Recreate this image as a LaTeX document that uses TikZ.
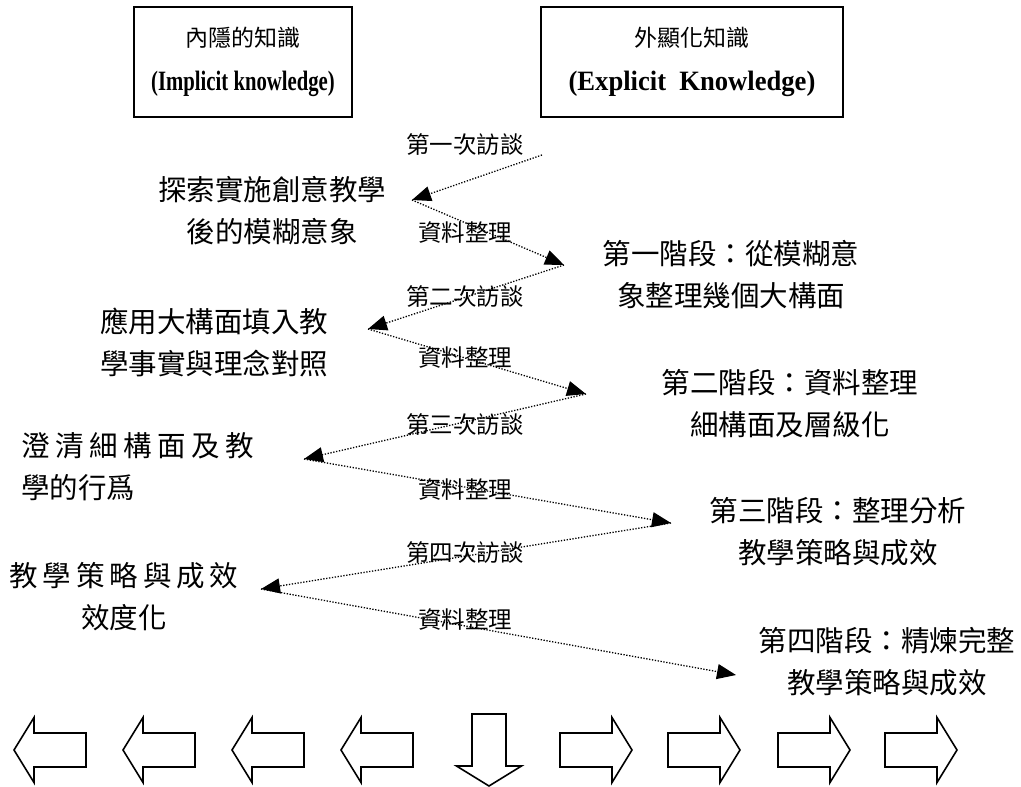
\documentclass[tikz,border=0pt]{standalone}
\usepackage{fontspec}
\setmainfont{Liberation Serif}
\newfontfamily\cjk{Noto Sans CJK TC}
\usetikzlibrary{arrows.meta}

\begin{document}
\begin{tikzpicture}[x=1pt,y=-1pt,
headbox/.style={draw,line width=1.8pt,minimum height=110pt,align=center,inner sep=0pt,font=\fontsize{23}{44}\selectfont},
stage/.style={align=center,inner sep=0pt,font=\cjk\fontsize{28.5}{42}\selectfont},
lbl/.style={inner sep=0pt,font=\cjk\fontsize{23.5}{26}\selectfont},
conn/.style={-{Triangle[length=19pt,width=15pt]},line width=1.3pt,dash pattern=on 1.3pt off 1.6pt},
blockarr/.style={draw,line width=1.6pt,line join=miter}]
\useasboundingbox (0,0) rectangle (1021,787);
\node[headbox,minimum width=218pt] (implicit) at (243,62) {{\cjk 內隱的知識}\\\scalebox{0.74}[1]{\fontsize{28}{30}\selectfont\bfseries (Implicit knowledge)}};
\node[headbox,minimum width=302pt] (explicit) at (692,62) {{\cjk 外顯化知識}\\\scalebox{0.95}[1]{\fontsize{28}{30}\selectfont\bfseries (Explicit\ \ Knowledge)}};
% implicit side
\node[stage] (explore) at (272,211) {探索實施創意教學\\後的模糊意象};
\node[stage] (apply) at (214,342) {應用大構面填入教\\學事實與理念對照};
\node[stage,align=left,anchor=west] (clarify) at (21,467) {\makebox[233pt][s]{澄\hfil 清\hfil 細\hfil 構\hfil 面\hfil 及\hfil 教}\\學的行爲};
\node[stage] (strategy) at (124,597) {\makebox[229pt][s]{教\hfil 學\hfil 策\hfil 略\hfil 與\hfil 成\hfil 效}\\效度化};
% explicit side
\node[stage] (stage1) at (731,275) {第一階段：從模糊意\\象整理幾個大構面};
\node[stage] (stage2) at (790,404) {第二階段：資料整理\\細構面及層級化};
\node[stage] (stage3) at (838,532) {第三階段：整理分析\\教學策略與成效};
\node[stage] (stage4) at (887,662) {第四階段：精煉完整\\教學策略與成效};
% turning points
\coordinate (p0) at (542,155);
\coordinate (p1) at (412,200);
\coordinate (p2) at (564,265);
\coordinate (p3) at (368,329);
\coordinate (p4) at (586,394);
\coordinate (p5) at (304,459);
\coordinate (p6) at (671,523);
\coordinate (p7) at (261,589);
\coordinate (p8) at (736,675);
\draw[conn] (p0) -- (p1);
\draw[conn] (p1) -- (p2);
\draw[conn] (p2) -- (p3);
\draw[conn] (p3) -- (p4);
\draw[conn] (p4) -- (p5);
\draw[conn] (p5) -- (p6);
\draw[conn] (p6) -- (p7);
\draw[conn] (p7) -- (p8);
\node[lbl] (talk1) at (465,145) {第一次訪談};
\node[lbl] (sort1) at (465,233) {資料整理};
\node[lbl] (talk2) at (465,297) {第二次訪談};
\node[lbl] (sort2) at (465,358) {資料整理};
\node[lbl] (talk3) at (465,425) {第三次訪談};
\node[lbl] (sort3) at (465,490) {資料整理};
\node[lbl] (talk4) at (465,553) {第四次訪談};
\node[lbl] (sort4) at (465,620) {資料整理};
% block arrows
\foreach \x/\r in {50/180,159/180,268/180,377/180,489/-90,596/0,704/0,814/0,921/0}
  \draw[blockarr,shift={(\x,750)},rotate=\r] (-36,-17) -- (16,-17) -- (16,-32.5) -- (36,0) -- (16,32.5) -- (16,17) -- (-36,17) -- cycle;
\end{tikzpicture}
\end{document}
